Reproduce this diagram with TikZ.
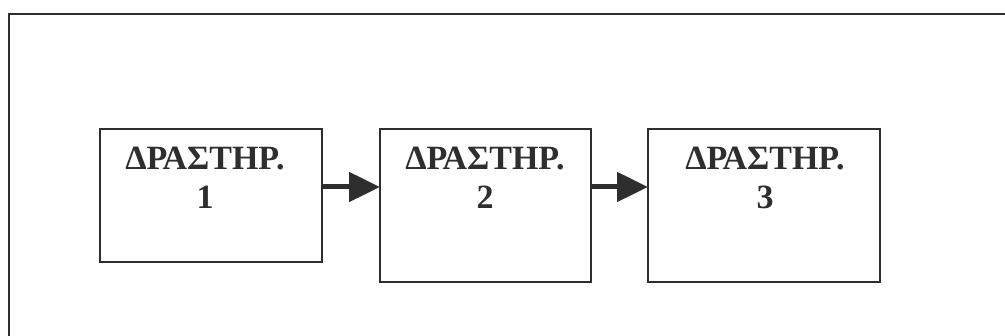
\documentclass[tikz,border=0pt]{standalone}
\usepackage{fontspec}
\setmainfont{Liberation Serif}
\usetikzlibrary{arrows.meta}
\definecolor{ink}{HTML}{2E2E2E}
\tikzset{
  boxstyle/.style={draw=ink, line width=2pt, rectangle, inner sep=0pt},
  labelstyle/.style={anchor=north, inner sep=0pt, align=center, text=ink,
    font=\fontsize{34pt}{39pt}\selectfont\bfseries},
  flow/.style={draw=ink, line width=5pt, -{Triangle[length=31pt, width=29pt]}, shorten >=-1pt}
}
\begin{document}
\begin{tikzpicture}[x=1pt, y=-1pt]
  \useasboundingbox (0,0) rectangle (1005,336);
  \begin{scope}
    \clip (0,0) rectangle (1005,336);
    \draw[draw=ink, line width=2.5pt] (9,14) rectangle (1020,350);
  \end{scope}
  \node[boxstyle, minimum width=222pt, minimum height=133pt] (b1) at (211,195.5) {};
  \node[boxstyle, minimum width=211pt, minimum height=153pt] (b2) at (485.5,205.5) {};
  \node[boxstyle, minimum width=232pt, minimum height=153pt] (b3) at (764,205.5) {};
  \node[labelstyle] (t1) at (205,147) {ΔΡΑΣΤΗΡ.\\1};
  \node[labelstyle] (t2) at (485,147) {ΔΡΑΣΤΗΡ.\\2};
  \node[labelstyle] (t3) at (765,147) {ΔΡΑΣΤΗΡ.\\3};
  \coordinate (a1s) at (b1.east |- 0,187);
  \coordinate (a1e) at (b2.west |- 0,187);
  \coordinate (a2s) at (b2.east |- 0,187);
  \coordinate (a2e) at (b3.west |- 0,187);
  \draw[flow] (a1s) -- (a1e);
  \draw[flow] (a2s) -- (a2e);
\end{tikzpicture}
\end{document}
